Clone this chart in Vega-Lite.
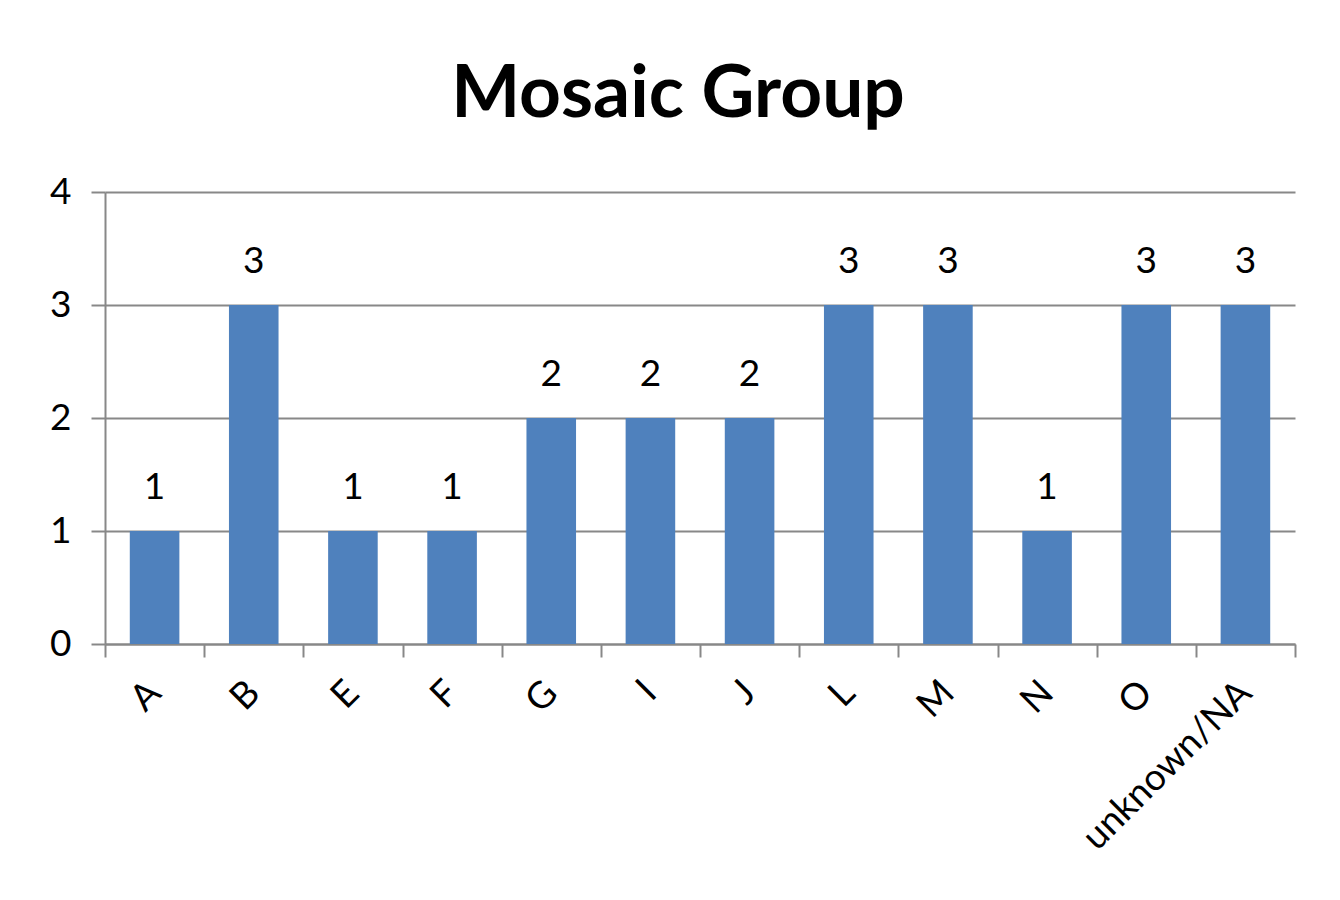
{
  "$schema": "https://vega.github.io/schema/vega-lite/v6.json",
  "autosize": "none",
  "width": 1190,
  "height": 452,
  "padding": {"left": 105, "top": 192, "right": 45, "bottom": 256},
  "background": "white",
  "title": {
    "text": "Mosaic Group",
    "font": "Lato",
    "fontSize": 73,
    "fontWeight": "bold",
    "color": "black",
    "anchor": "middle",
    "frame": "group",
    "baseline": "alphabetic",
    "offset": -17,
    "dx": -22
  },
  "data": {
    "values": [
      {"group": "A", "count": 1},
      {"group": "B", "count": 3},
      {"group": "E", "count": 1},
      {"group": "F", "count": 1},
      {"group": "G", "count": 2},
      {"group": "I", "count": 2},
      {"group": "J", "count": 2},
      {"group": "L", "count": 3},
      {"group": "M", "count": 3},
      {"group": "N", "count": 1},
      {"group": "O", "count": 3},
      {"group": "unknown/NA", "count": 3}
    ]
  },
  "encoding": {
    "y": {
      "field": "count",
      "type": "quantitative",
      "scale": {"domain": [0, 4], "nice": false},
      "axis": {
        "title": null,
        "values": [0, 1, 2, 3, 4],
        "labelFont": "Lato",
        "labelFontSize": 37,
        "labelColor": "black",
        "labelPadding": 20,
        "tickSize": 14,
        "tickWidth": 2,
        "tickColor": "#888888",
        "domainColor": "#888888",
        "domainWidth": 2,
        "grid": true,
        "gridColor": "#888888",
        "gridWidth": 2
      }
    }
  },
  "layer": [
    {
      "mark": {"type": "bar", "color": "#4F81BD"},
      "encoding": {
        "x": {
          "field": "group",
          "type": "nominal",
          "sort": null,
          "scale": {"paddingInner": 0.5, "paddingOuter": 0.25},
          "axis": {
            "title": null,
            "orient": "bottom",
            "labelAngle": -45,
            "labelAlign": "right",
            "labelBaseline": "middle",
            "labelFont": "Lato",
            "labelFontSize": 37,
            "labelColor": "black",
            "labelPadding": 30,
            "labelLimit": 0,
            "tickOffset": -49.58,
            "labelOffset": 49.58,
            "tickSize": 13,
            "tickWidth": 2,
            "tickColor": "#888888",
            "domainColor": "#888888",
            "domainWidth": 2,
            "grid": false
          }
        }
      }
    },
    {
      "mark": {"type": "text", "font": "Lato", "fontSize": 37, "color": "black", "baseline": "middle", "dy": -43},
      "encoding": {
        "x": {
          "field": "group",
          "type": "nominal",
          "sort": null,
          "axis": {
            "title": null,
            "orient": "bottom",
            "values": ["unknown/NA"],
            "labels": false,
            "domain": false,
            "tickOffset": 49.58,
            "tickSize": 13,
            "tickWidth": 2,
            "tickColor": "#888888",
            "grid": false
          }
        },
        "text": {"field": "count", "type": "quantitative"}
      }
    }
  ],
  "resolve": {"axis": {"x": "independent"}},
  "config": {"view": {"stroke": null}}
}
